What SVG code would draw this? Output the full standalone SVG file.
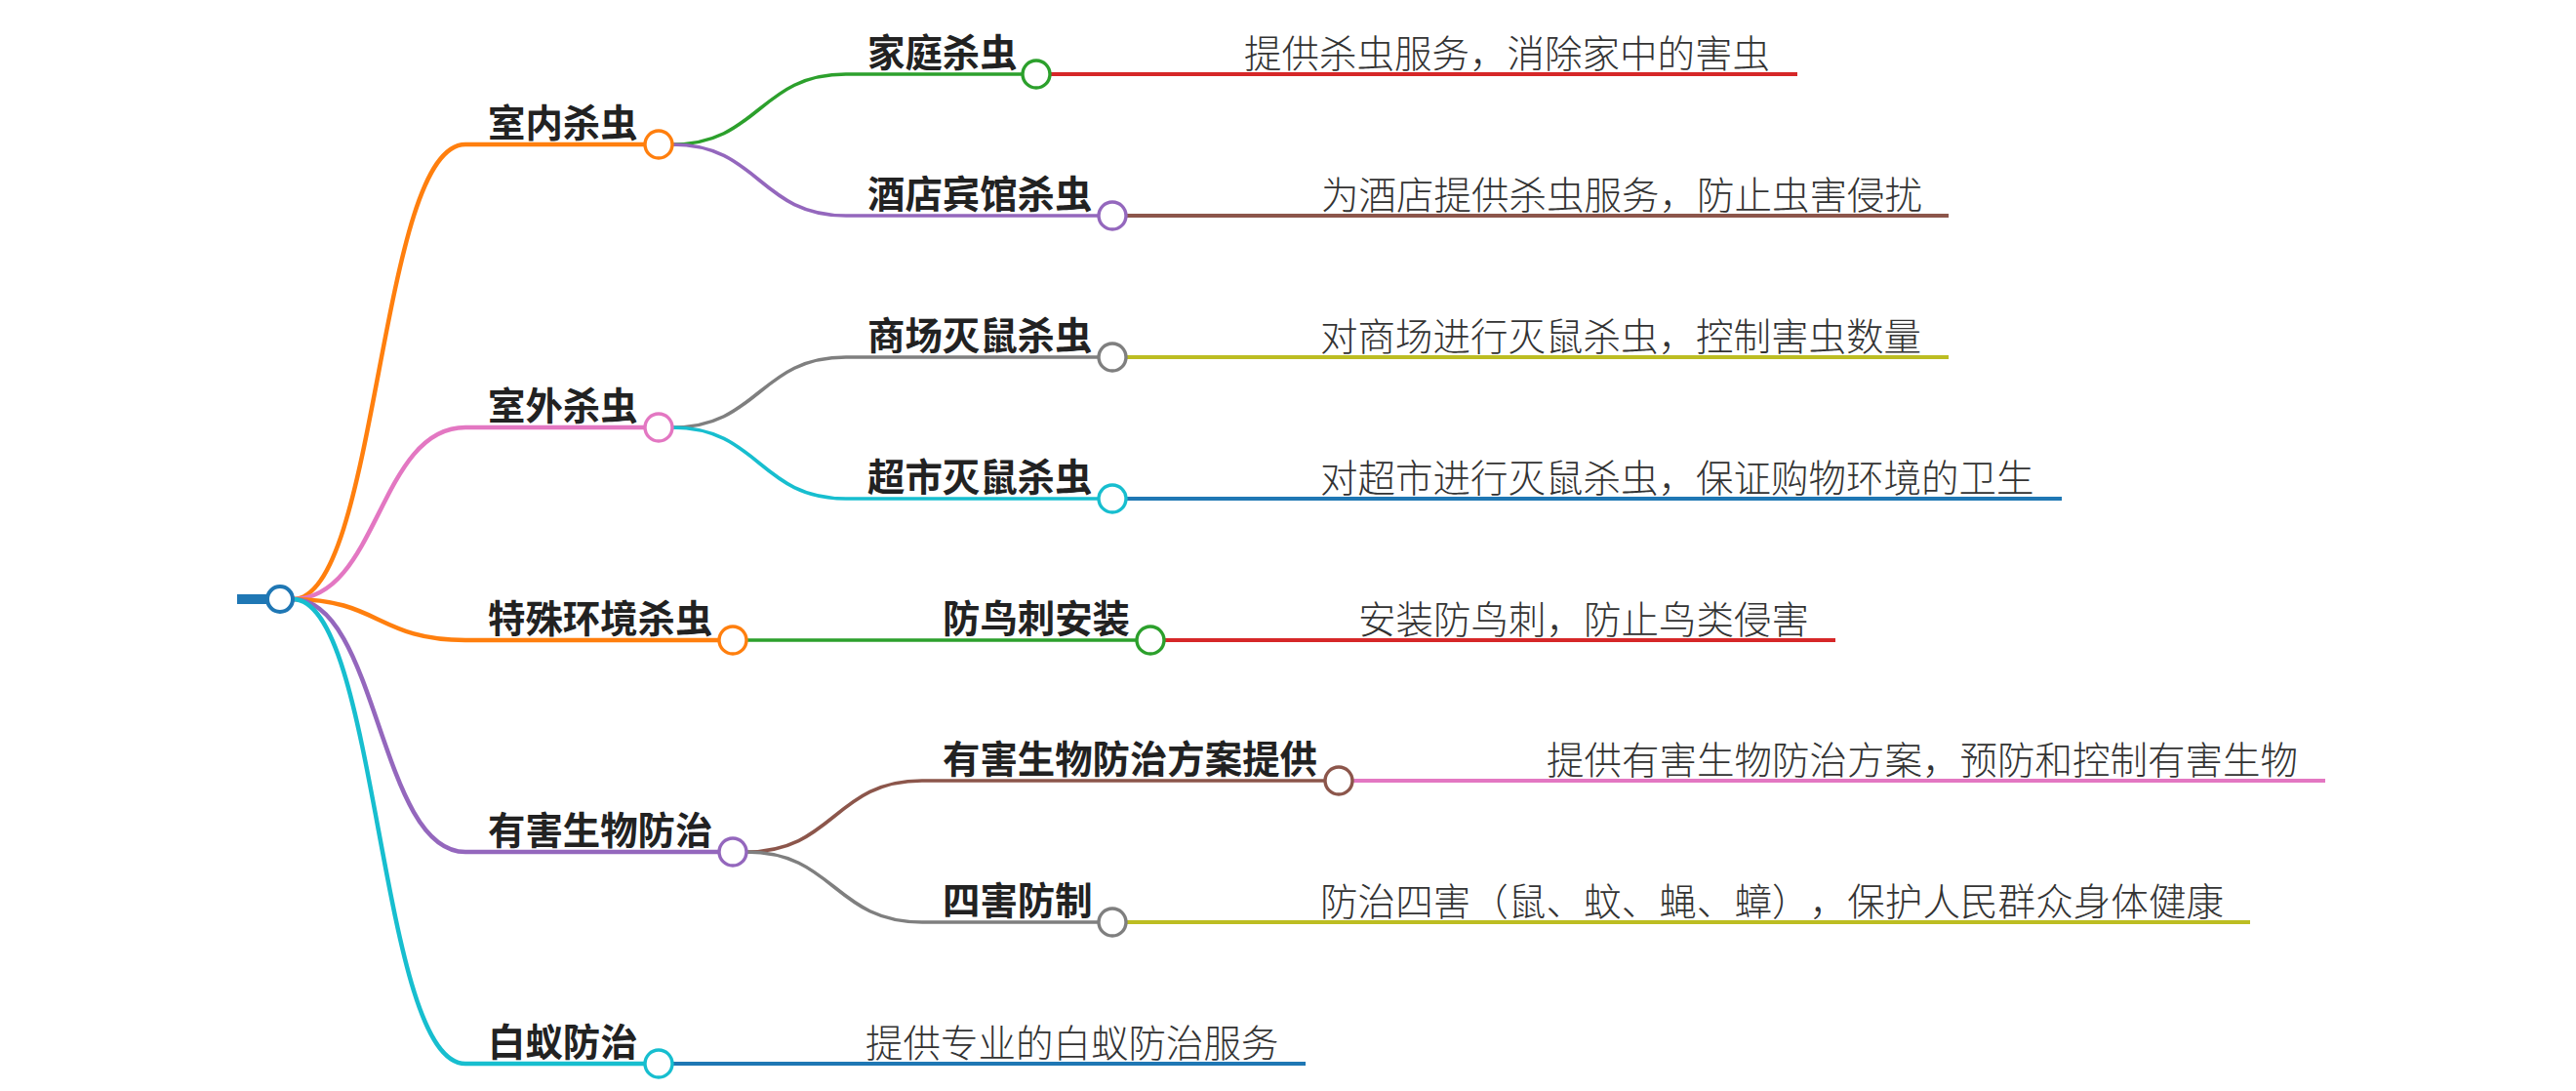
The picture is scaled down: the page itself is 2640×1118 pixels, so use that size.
<svg xmlns="http://www.w3.org/2000/svg" width="2640" height="1118" viewBox="0 0 2640 1118">
<style>
  .l1 { fill: none; stroke-width: 4.5; stroke-linecap: round; }
  .l2 { fill: none; stroke-width: 3.6; stroke-linecap: round; }
  .l3 { fill: none; stroke-width: 3.8; }
  .dot { fill: #ffffff; stroke-width: 3.4; }
  .lab { font-family: "Noto Sans CJK SC", "Noto Sans", sans-serif; font-weight: 700; font-size: 38.4px; fill: #222222; }
  .desc { font-family: "Noto Sans CJK SC", "Noto Sans", sans-serif; font-weight: 300; font-size: 38.5px; fill: #333333; text-spacing-trim: space-all; }
</style>
<rect width="2640" height="1118" fill="#ffffff"/>
<g id="connectors">
  <rect x="243" y="609" width="30" height="10" fill="#1f77b4"/>
  <path class="l1" stroke="#ff7f0e" d="M 300 614 C 388 614 388 148 477 148 L 675 148"/>
  <path class="l1" stroke="#e377c2" d="M 300 614 C 388 614 388 438 477 438 L 675 438"/>
  <path class="l1" stroke="#ff7f0e" d="M 300 614 C 388 614 388 656 477 656 L 751 656"/>
  <path class="l1" stroke="#9467bd" d="M 300 614 C 388 614 388 873 477 873 L 751 873"/>
  <path class="l1" stroke="#17becf" d="M 300 614 C 388 614 388 1090 477 1090 L 675 1090"/>
  <path class="l2" stroke="#2ca02c" d="M 689 148 C 778 148 778 76 867 76 L 1062 76"/>
  <path class="l2" stroke="#9467bd" d="M 689 148 C 778 148 778 221 867 221 L 1140 221"/>
  <path class="l2" stroke="#7f7f7f" d="M 689 438 C 778 438 778 366 867 366 L 1140 366"/>
  <path class="l2" stroke="#17becf" d="M 689 438 C 778 438 778 511 867 511 L 1140 511"/>
  <path class="l2" stroke="#2ca02c" d="M 765 656 L 1179 656"/>
  <path class="l2" stroke="#8c564b" d="M 765 873 C 855 873 855 800 945 800 L 1372 800"/>
  <path class="l2" stroke="#7f7f7f" d="M 765 873 C 855 873 855 945 945 945 L 1140 945"/>
  <path class="l3" stroke="#d62728" d="M 1076 76 L 1842 76"/>
  <path class="l3" stroke="#8c564b" d="M 1154 221 L 1997 221"/>
  <path class="l3" stroke="#bcbd22" d="M 1154 366 L 1997 366"/>
  <path class="l3" stroke="#1f77b4" d="M 1154 511 L 2113 511"/>
  <path class="l3" stroke="#d62728" d="M 1193 656 L 1881 656"/>
  <path class="l3" stroke="#e377c2" d="M 1386 800 L 2383 800"/>
  <path class="l3" stroke="#bcbd22" d="M 1154 945 L 2306 945"/>
  <path class="l3" stroke="#1f77b4" d="M 689 1090 L 1338 1090"/>
</g>
<g id="root">
  <circle cx="287" cy="614" r="13" fill="#ffffff" stroke="#1f77b4" stroke-width="4"/>
</g>
<g id="n-indoor">
  <text class="lab" x="500" y="140">室内杀虫</text>
  <circle class="dot" cx="675" cy="148" r="14" stroke="#ff7f0e"/>
</g>
<g id="n-home">
  <text class="lab" x="889" y="68">家庭杀虫</text>
  <circle class="dot" cx="1062" cy="76" r="14" stroke="#2ca02c"/>
</g>
<g id="d-home"><text class="desc" x="1275" y="69">提供杀虫服务，消除家中的害虫</text></g>
<g id="n-hotel">
  <text class="lab" x="889" y="213">酒店宾馆杀虫</text>
  <circle class="dot" cx="1140" cy="221" r="14" stroke="#9467bd"/>
</g>
<g id="d-hotel"><text class="desc" x="1354" y="214">为酒店提供杀虫服务，防止虫害侵扰</text></g>
<g id="n-outdoor">
  <text class="lab" x="500" y="430">室外杀虫</text>
  <circle class="dot" cx="675" cy="438" r="14" stroke="#e377c2"/>
</g>
<g id="n-mall">
  <text class="lab" x="889" y="358">商场灭鼠杀虫</text>
  <circle class="dot" cx="1140" cy="366" r="14" stroke="#7f7f7f"/>
</g>
<g id="d-mall"><text class="desc" x="1353" y="359">对商场进行灭鼠杀虫，控制害虫数量</text></g>
<g id="n-market">
  <text class="lab" x="889" y="503">超市灭鼠杀虫</text>
  <circle class="dot" cx="1140" cy="511" r="14" stroke="#17becf"/>
</g>
<g id="d-market"><text class="desc" x="1353" y="504">对超市进行灭鼠杀虫，保证购物环境的卫生</text></g>
<g id="n-special">
  <text class="lab" x="500" y="648">特殊环境杀虫</text>
  <circle class="dot" cx="751" cy="656" r="14" stroke="#ff7f0e"/>
</g>
<g id="n-bird">
  <text class="lab" x="966" y="648">防鸟刺安装</text>
  <circle class="dot" cx="1179" cy="656" r="14" stroke="#2ca02c"/>
</g>
<g id="d-bird"><text class="desc" x="1392" y="649">安装防鸟刺，防止鸟类侵害</text></g>
<g id="n-pest">
  <text class="lab" x="500" y="865">有害生物防治</text>
  <circle class="dot" cx="751" cy="873" r="14" stroke="#9467bd"/>
</g>
<g id="n-plan">
  <text class="lab" x="966" y="792">有害生物防治方案提供</text>
  <circle class="dot" cx="1372" cy="800" r="14" stroke="#8c564b"/>
</g>
<g id="d-plan"><text class="desc" x="1585" y="793">提供有害生物防治方案，预防和控制有害生物</text></g>
<g id="n-four">
  <text class="lab" x="966" y="937">四害防制</text>
  <circle class="dot" cx="1140" cy="945" r="14" stroke="#7f7f7f"/>
</g>
<g id="d-four"><text class="desc" x="1353" y="938" textLength="926" lengthAdjust="spacing">防治四害（鼠、蚊、蝇、蟑），保护人民群众身体健康</text></g>
<g id="n-termite">
  <text class="lab" x="500" y="1082">白蚁防治</text>
  <circle class="dot" cx="675" cy="1090" r="14" stroke="#17becf"/>
</g>
<g id="d-termite"><text class="desc" x="887" y="1083">提供专业的白蚁防治服务</text></g>
</svg>
